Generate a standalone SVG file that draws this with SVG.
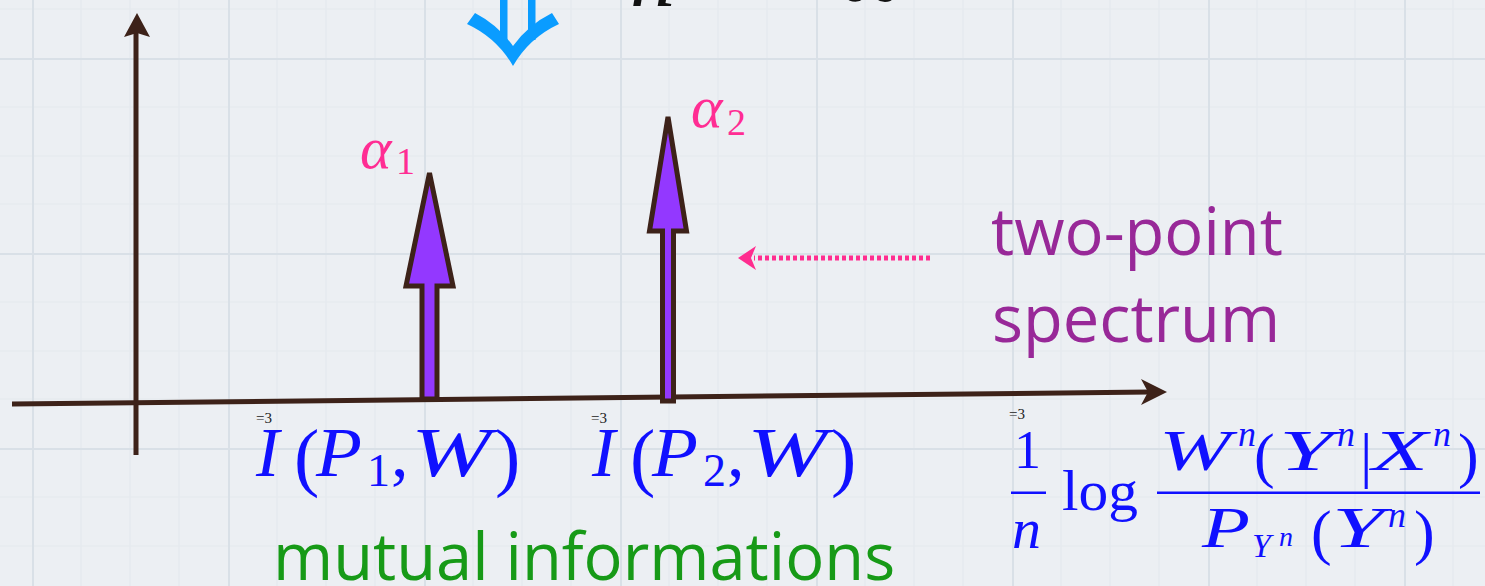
<svg xmlns="http://www.w3.org/2000/svg" width="1485" height="586" viewBox="0 0 1485 586">
<style>
.ax{stroke:#3d2219;stroke-width:5;fill:none}
.axh{fill:#3d2219}
.spike{fill:#9338ff;stroke:#3d2219;stroke-width:5}
.alpha{font-family:"Liberation Serif",serif;font-style:italic;fill:#ff2d93}
.alsub{font-family:"Liberation Serif",serif;fill:#ff2d93}
.lbl{font-family:"Open Sans","Noto Sans",sans-serif;font-size:65px}
.mi{font-family:"Liberation Serif",serif;font-style:italic;fill:#1010ff}
.mu{font-family:"Liberation Serif",serif;fill:#1010ff}
.tiny{font-family:"Liberation Serif",serif;font-size:15px;fill:#222}
</style>
<defs>
<pattern id="grid" patternUnits="userSpaceOnUse" x="32" y="58" width="196" height="195">
<rect width="196" height="195" fill="#eceff3"/>
<path d="M49,0V195M98,0V195M147,0V195M0,49H196M0,98H196M0,146H196" stroke="#e5e9ee" stroke-width="1.2"/>
<path d="M1,0V195M0,1H196" stroke="#d9e0e7" stroke-width="2"/>
</pattern>
</defs>
<rect width="1485" height="586" fill="url(#grid)"/>

<g id="title">
<text x="630" y="6" font-family="Liberation Serif,serif" font-style="italic" font-size="90" fill="#111">n</text>
<text x="700" y="-12" font-family="Liberation Serif,serif" font-size="90" fill="#111">→</text>
<text x="838" y="11" font-family="Liberation Serif,serif" font-size="90" fill="#111">∞</text>
</g>

<g id="double-arrow" fill="#0a9cff">
<rect x="500" y="-2" width="7.5" height="42"/>
<rect x="528" y="-2" width="7.5" height="42"/>
<path d="M467,24 Q497,38 513,66 Q529,38 559,24 L552,13 Q528,25 513,46 Q498,25 475,13 Z"/>
</g>

<g id="connectors">
<line class="ax" x1="136" y1="455" x2="136" y2="32"/>
<polygon class="axh" points="137,13 124,37 137,33 150,37"/>
<line class="ax" x1="12" y1="404" x2="1150" y2="392"/>
<polygon class="axh" points="1167,392 1141,379 1148,392 1141,405"/>
<line x1="930" y1="258" x2="754" y2="258" stroke="#ff2d8f" stroke-width="5" stroke-dasharray="4 3"/>
<polygon points="738,258 756,246 751,258 756,270" fill="#ff2d8f"/>
</g>

<g id="spike1">
<path class="spike" d="M422,399 L422,286 L406,286 L429.5,173 L453,286 L437,286 L437,399 Z"/>
</g>
<g id="spike2">
<path class="spike" d="M662.5,401 L662.5,231 L649.5,231 L668,117 L686.5,231 L673.5,231 L673.5,401 Z"/>
</g>

<g id="alpha1">
<text class="alpha" x="360" y="168" font-size="60">α</text>
<text class="alsub" x="396" y="174" font-size="38">1</text>
</g>
<g id="alpha2">
<text class="alpha" x="691" y="127" font-size="60">α</text>
<text class="alsub" x="727" y="135" font-size="38">2</text>
</g>

<g id="two-point-label">
<text class="lbl" x="991" y="255" fill="#982898">two-point</text>
<text class="lbl" x="992" y="342" fill="#982898">spectrum</text>
</g>

<g id="mutual-label">
<text class="lbl" x="273" y="580" fill="#179a17">mutual informations</text>
</g>

<g id="I1">
<text class="tiny" x="256" y="423">=3</text>
<text class="mi" x="256" y="476" font-size="70">I</text>
<text class="mu" x="294" y="482" font-size="76">(</text>
<text class="mi" x="316" y="476" font-size="70" textLength="46" lengthAdjust="spacingAndGlyphs">P</text>
<text class="mu" x="367" y="486" font-size="46">1</text>
<text class="mu" x="391" y="476" font-size="70">,</text>
<text class="mi" x="411" y="476" font-size="70" textLength="80" lengthAdjust="spacingAndGlyphs">W</text>
<text class="mu" x="495" y="482" font-size="76">)</text>
</g>

<g id="I2">
<text class="tiny" x="591" y="423">=3</text>
<text class="mi" x="592" y="476" font-size="70">I</text>
<text class="mu" x="630" y="482" font-size="76">(</text>
<text class="mi" x="652" y="476" font-size="70" textLength="46" lengthAdjust="spacingAndGlyphs">P</text>
<text class="mu" x="703" y="486" font-size="46">2</text>
<text class="mu" x="727" y="476" font-size="70">,</text>
<text class="mi" x="747" y="476" font-size="70" textLength="80" lengthAdjust="spacingAndGlyphs">W</text>
<text class="mu" x="831" y="482" font-size="76">)</text>
</g>

<g id="formula">
<text class="tiny" x="1009" y="419">=3</text>
<text class="mu" x="1014" y="468" font-size="54">1</text>
<rect x="1011" y="491.5" width="35" height="2.5" fill="#1010ff"/>
<text class="mi" x="1012" y="548" font-size="58">n</text>
<text class="mu" x="1062" y="510" font-size="58" textLength="76" lengthAdjust="spacingAndGlyphs">log</text>
<rect x="1157" y="491.5" width="323" height="2.5" fill="#1010ff"/>
<text class="mi" x="1159" y="470" font-size="56" textLength="72" lengthAdjust="spacingAndGlyphs">W</text>
<text class="mi" x="1238" y="446" font-size="36">n</text>
<text class="mu" x="1254" y="476" font-size="62">(</text>
<text class="mi" x="1279" y="470" font-size="56" textLength="54" lengthAdjust="spacingAndGlyphs">Y</text>
<text class="mi" x="1337" y="446" font-size="36">n</text>
<text class="mu" x="1360" y="476" font-size="62">|</text>
<text class="mi" x="1372" y="470" font-size="56" textLength="56" lengthAdjust="spacingAndGlyphs">X</text>
<text class="mi" x="1433" y="446" font-size="36">n</text>
<text class="mu" x="1458" y="476" font-size="62">)</text>
<text class="mi" x="1202" y="547" font-size="56" textLength="48" lengthAdjust="spacingAndGlyphs">P</text>
<text class="mi" x="1252" y="557" font-size="34">Y</text>
<text class="mi" x="1279" y="546" font-size="28">n</text>
<text class="mu" x="1311" y="553" font-size="62">(</text>
<text class="mi" x="1332" y="547" font-size="56" textLength="52" lengthAdjust="spacingAndGlyphs">Y</text>
<text class="mi" x="1388" y="527" font-size="36">n</text>
<text class="mu" x="1414" y="553" font-size="62">)</text>
</g>
</svg>
